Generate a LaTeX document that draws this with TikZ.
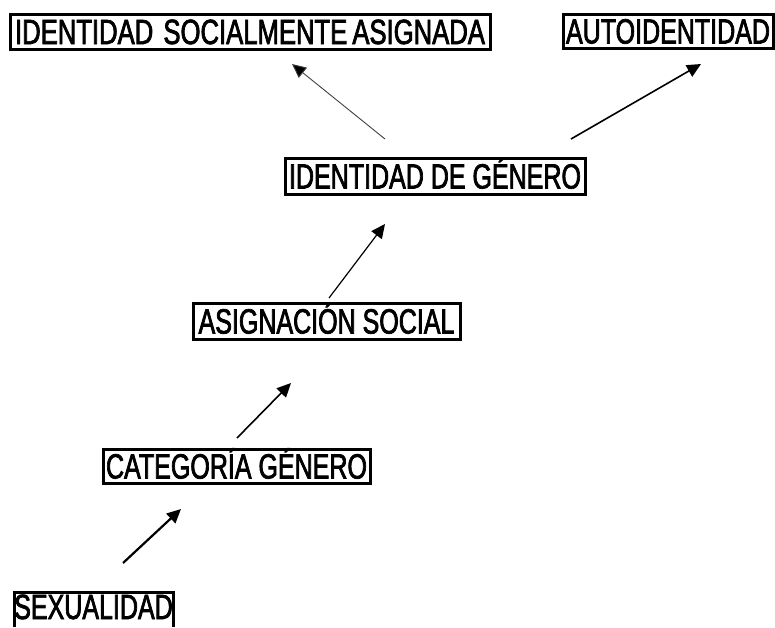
\documentclass[tikz,border=0pt]{standalone}
\usepackage{fontspec}
\newfontfamily\narrowfont[FakeStretch=0.715,FakeBold=2]{Liberation Sans}
\usetikzlibrary{arrows.meta}
\tikzset{
  lbl/.style={draw=black, line width=3pt, font=\narrowfont\fontsize{35}{37}\selectfont,
    inner sep=0pt, anchor=center, text height=25pt, text depth=0pt},
  openbox/.style={draw=black, line width=3pt},
  arr/.style={line width=1.6pt, -{Triangle[length=14pt,width=13pt]}},
  thinarr/.style={line width=0.9pt, draw=black!75, -{Triangle[length=14pt,width=13pt,fill=black]}}
}
\begin{document}
\begin{tikzpicture}[x=1pt,y=-1pt]
\useasboundingbox (0,0) rectangle (775,627);
\node[lbl, minimum width=480pt, minimum height=35pt] (isa) at (250,31.5) {\scalebox{1.025}[1]{IDENTIDAD\hspace{3pt} SOCIALMENTE\hspace{-2pt} ASIGNADA}};
\node[lbl, minimum width=210pt, minimum height=34pt] (auto) at (668,31) {AUTOIDENTIDAD};
\node[lbl, minimum width=300pt, minimum height=36pt] (ig) at (435,176) {IDENTIDAD DE GÉNERO};
\node[lbl, minimum width=267pt, minimum height=36pt] (as) at (326.5,321) {ASIGNACIÓN SOCIAL};
\node[lbl, minimum width=267pt, minimum height=34pt] (cg) at (236.5,466) {CATEGORÍA GÉNERO};
\node[lbl, draw=none, minimum width=159pt, minimum height=26pt] (sx) at (93.5,606.5) {SEXUALIDAD};
\coordinate (sxtl) at (14,592); \coordinate (sxtr) at (173,592);
\coordinate (sxbl) at (14,627); \coordinate (sxbr) at (173,627);
\draw[openbox] (sxbl) -- (sxtl) -- (sxtr) -- (sxbr);
% arrow endpoints
\coordinate (a1s) at (385,139); \coordinate (a1e) at (292,64);
\coordinate (a2s) at (571,139); \coordinate (a2e) at (701,64);
\coordinate (a3s) at (329,298); \coordinate (a3e) at (385,224);
\coordinate (a4s) at (237,438); \coordinate (a4e) at (291,383);
\coordinate (a5s) at (123,563); \coordinate (a5e) at (181,509);
\draw[thinarr] (a1s) -- (a1e);
\draw[arr] (a2s) -- (a2e);
\draw[arr, line width=1.2pt] (a3s) -- (a3e);
\draw[arr] (a4s) -- (a4e);
\draw[arr, line width=2.2pt] (a5s) -- (a5e);
\end{tikzpicture}
\end{document}
